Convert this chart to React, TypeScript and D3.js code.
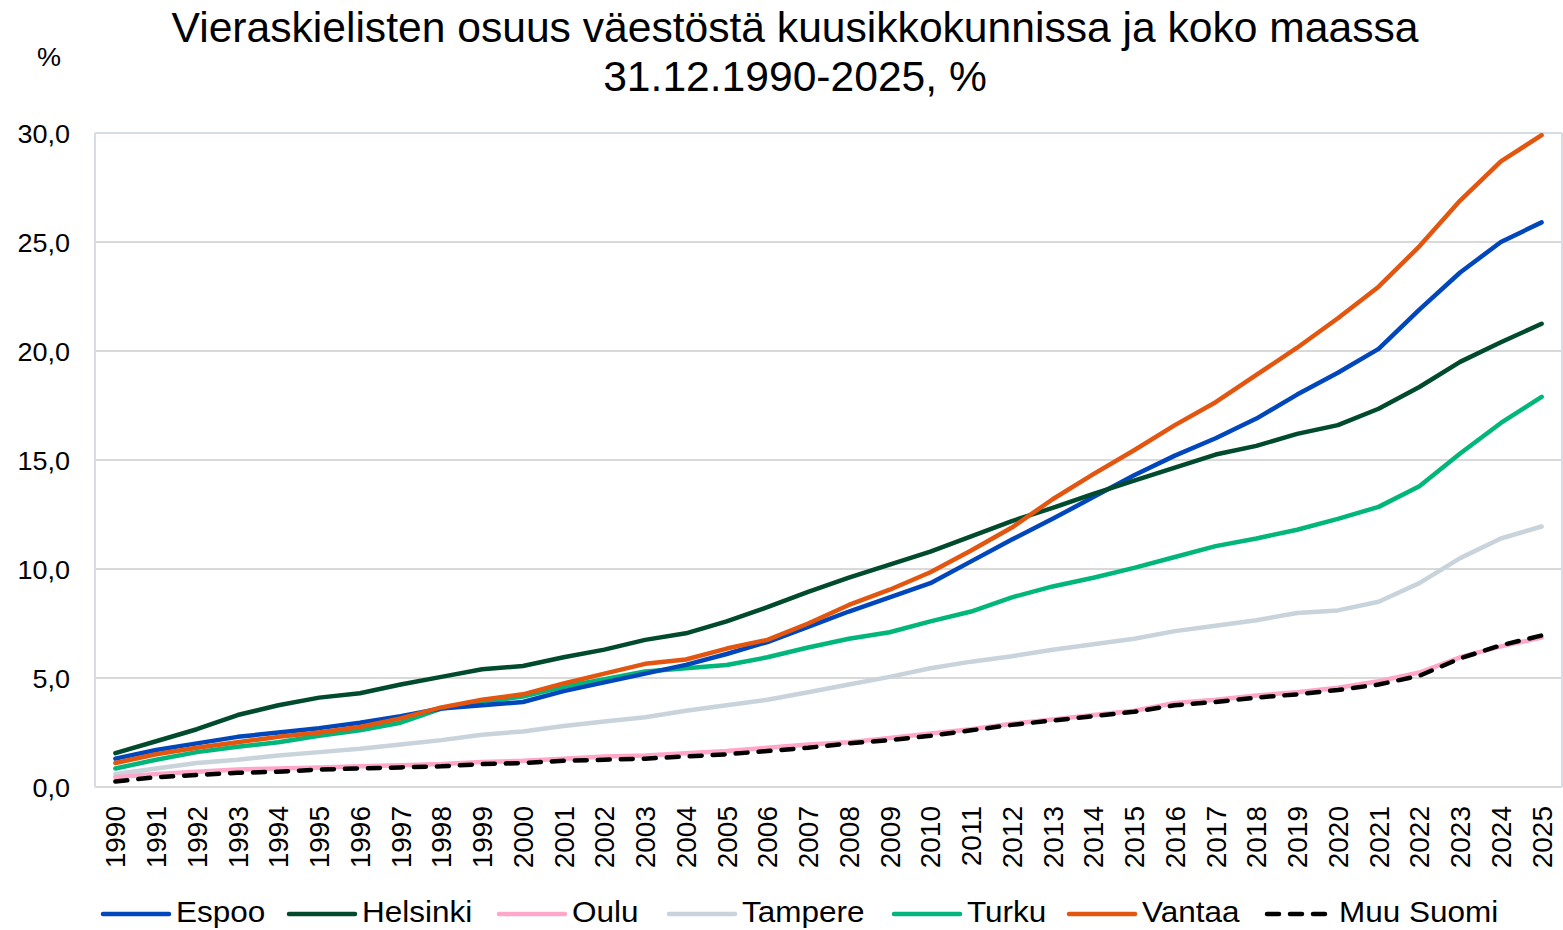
import React from "react";
import * as d3 from "d3";

const years = d3.range(1990, 2026).map(String);
const yTicks = [0, 5, 10, 15, 20, 25, 30];

const espoo = [1.3, 1.7, 2.0, 2.3, 2.5, 2.7, 2.95, 3.25, 3.6, 3.75, 3.9, 4.4, 4.8, 5.2, 5.6, 6.1, 6.65, 7.35, 8.05, 8.7, 9.35, 10.35, 11.35, 12.3, 13.3, 14.3, 15.2, 16.0, 16.9, 18.0, 19.0, 20.1, 21.9, 23.6, 25.0, 25.9];
const helsinki = [1.55, 2.1, 2.65, 3.3, 3.75, 4.1, 4.3, 4.7, 5.05, 5.4, 5.55, 5.95, 6.3, 6.75, 7.05, 7.6, 8.25, 8.95, 9.6, 10.2, 10.8, 11.5, 12.2, 12.8, 13.45, 14.05, 14.65, 15.25, 15.65, 16.2, 16.6, 17.35, 18.35, 19.5, 20.4, 21.25];
const oulu = [0.45, 0.6, 0.7, 0.8, 0.85, 0.9, 0.95, 1.0, 1.05, 1.15, 1.2, 1.3, 1.4, 1.45, 1.55, 1.65, 1.8, 1.95, 2.05, 2.25, 2.45, 2.65, 2.9, 3.1, 3.3, 3.5, 3.85, 4.0, 4.2, 4.35, 4.55, 4.85, 5.25, 5.95, 6.45, 6.85];
const tampere = [0.6, 0.85, 1.1, 1.25, 1.45, 1.6, 1.75, 1.95, 2.15, 2.4, 2.55, 2.8, 3.0, 3.2, 3.5, 3.75, 4.0, 4.35, 4.7, 5.05, 5.45, 5.75, 6.0, 6.3, 6.55, 6.8, 7.15, 7.4, 7.65, 7.98, 8.1, 8.5, 9.35, 10.5, 11.4, 11.95];
const turku = [0.85, 1.25, 1.6, 1.85, 2.05, 2.35, 2.6, 2.95, 3.6, 3.9, 4.15, 4.6, 4.95, 5.3, 5.45, 5.6, 5.95, 6.4, 6.8, 7.1, 7.6, 8.05, 8.7, 9.2, 9.6, 10.05, 10.55, 11.05, 11.4, 11.8, 12.3, 12.85, 13.8, 15.3, 16.7, 17.9];
const vantaa = [1.1, 1.5, 1.8, 2.05, 2.3, 2.5, 2.75, 3.15, 3.65, 4.0, 4.25, 4.75, 5.2, 5.65, 5.85, 6.35, 6.75, 7.5, 8.35, 9.05, 9.85, 10.85, 11.9, 13.2, 14.35, 15.45, 16.6, 17.65, 18.9, 20.15, 21.5, 22.95, 24.8, 26.9, 28.7, 29.9];
const muuSuomi = [0.25, 0.45, 0.55, 0.65, 0.7, 0.8, 0.85, 0.9, 0.95, 1.05, 1.1, 1.2, 1.25, 1.3, 1.4, 1.5, 1.65, 1.8, 2.0, 2.15, 2.35, 2.6, 2.85, 3.05, 3.25, 3.45, 3.75, 3.9, 4.1, 4.25, 4.45, 4.7, 5.1, 5.9, 6.5, 6.95];

const seriesNames = ["Espoo", "Helsinki", "Oulu", "Tampere", "Turku", "Vantaa", "Muu Suomi"];
const seriesValues = [espoo, helsinki, oulu, tampere, turku, vantaa, muuSuomi];
const seriesColors = ["#0047BB", "#004B2D", "#FFA6C9", "#C8D3DC", "#00B67A", "#E2560F", "#000000"];
const legendX = [101, 287, 497, 667, 892, 1067, 1265];
const legendLen = [68, 68, 68, 68, 68, 68, 62];

export default function App() {
  const W = 1563, H = 930;
  const left = 95, right = 1562, top = 133, bottom = 787;
  const x = d3.scaleBand<string>().domain(years).range([left, right]).padding(0);
  const cx = (i: number) => (x(years[i]) as number) + x.bandwidth() / 2;
  const y = d3.scaleLinear().domain([0, 30]).range([bottom, top]);
  const line = d3.line<number>().x((_, i) => cx(i)).y((v) => y(v));
  const font = "'Liberation Sans', Arial, sans-serif";
  const order = [3, 4, 0, 1, 5, 2, 6];
  const dash = "12,11";
  return (
    <svg width={W} height={H} style={{ position: "absolute", left: 0, top: 0, background: "#fff" }} fontFamily={font}>
      <rect x={0} y={0} width={W} height={H} fill="#fff" />
      <text x={795} y={42} textAnchor="middle" fontSize={42.6} fill="#000">Vieraskielisten osuus väestöstä kuusikkokunnissa ja koko maassa</text>
      <text x={795} y={91} textAnchor="middle" fontSize={42.6} fill="#000">31.12.1990-2025, %</text>
      <text transform="translate(49,66) scale(1.08,1)" textAnchor="middle" fontSize={25} fill="#000">%</text>
      {yTicks.map((t) => (
        <g key={t}>
          <line x1={left} x2={right} y1={y(t)} y2={y(t)} stroke="#D9D9D9" strokeWidth={2} />
          <text transform={`translate(70,${y(t) + 9.5}) scale(1.08,1)`} textAnchor="end" fontSize={25} fill="#000">{d3.format(".1f")(t).replace(".", ",")}</text>
        </g>
      ))}
      <line x1={left} x2={left} y1={top} y2={bottom} stroke="#D6DCE5" strokeWidth={2} />
      <line x1={right} x2={right} y1={top} y2={bottom} stroke="#D6DCE5" strokeWidth={2} />
      <line x1={left} x2={right} y1={top} y2={top} stroke="#D6DCE5" strokeWidth={2} />
      {years.map((yr, i) => (
        <text key={yr} transform={`translate(${cx(i) + 10},${806}) rotate(-90)`} textAnchor="end" fontSize={28} fill="#000">{yr}</text>
      ))}
      {order.map((k) => (
        <path key={seriesNames[k]} d={line(seriesValues[k]) || ""} fill="none" stroke={seriesColors[k]} strokeWidth={4.5}
          strokeLinejoin="round" strokeLinecap="round" strokeDasharray={k === 6 ? dash : undefined} />
      ))}
      {seriesNames.map((n, k) => (
        <g key={n}>
          <line x1={legendX[k] + 2} x2={legendX[k] + legendLen[k]} y1={914} y2={914} stroke={seriesColors[k]} strokeWidth={4.5}
            strokeLinecap="round" strokeDasharray={k === 6 ? dash : undefined} />
          <text transform={`translate(${legendX[k] + (k === 6 ? 74 : 75)},922) scale(1.05,1)`} fontSize={30} fill="#000">{n}</text>
        </g>
      ))}
    </svg>
  );
}
